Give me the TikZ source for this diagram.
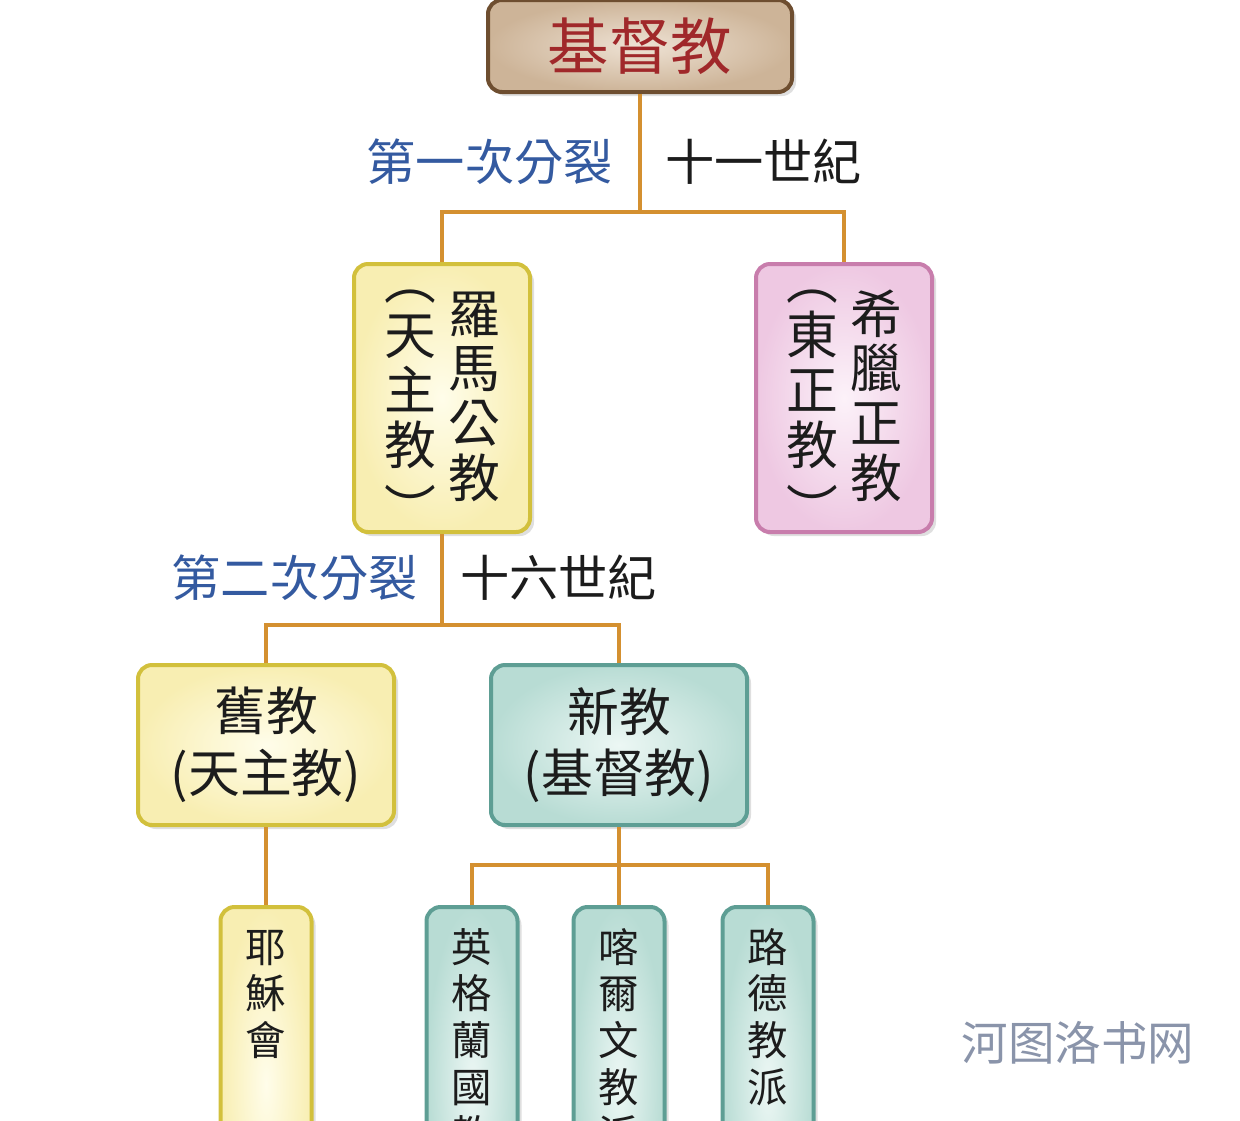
\documentclass[tikz,border=0pt]{standalone}
\usepackage{fontspec}
\setmainfont{Noto Sans CJK TC}
\newfontfamily\markfont{Noto Sans CJK SC}
\usetikzlibrary{positioning, shadows}
\definecolor{linebrown}{RGB}{212,144,48}
\definecolor{topred}{RGB}{160,40,42}
\definecolor{topedge}{RGB}{110,78,48}
\definecolor{topfill}{RGB}{238,226,212}
\definecolor{topouter}{RGB}{205,180,152}
\definecolor{splitblue}{RGB}{52,90,160}
\definecolor{inkdark}{RGB}{28,28,28}
\definecolor{yeledge}{RGB}{210,192,60}
\definecolor{yelfill}{RGB}{255,253,234}
\definecolor{yelouter}{RGB}{248,238,178}
\definecolor{pinkedge}{RGB}{200,125,172}
\definecolor{pinkfill}{RGB}{252,242,249}
\definecolor{pinkouter}{RGB}{238,200,226}
\definecolor{tealedge}{RGB}{94,158,148}
\definecolor{tealfill}{RGB}{236,247,244}
\definecolor{tealouter}{RGB}{184,220,212}
\definecolor{markgray}{RGB}{138,148,170}
\newlength{\pu}
\setlength{\pu}{0.02cm}
% one character per line, lines kept exactly one baselineskip apart
\newcommand{\vtext}[1]{\parbox[t]{1em}{\centering\lineskiplimit=-100pt #1}}
\newcommand{\vopen}{\raisebox{0.65em}{︵}}
\newcommand{\vclose}{\raisebox{-0.45em}{︶}}
\tikzset{
  box/.style={rectangle, rounded corners=14\pu, line width=4\pu,
    align=center, inner sep=0pt, text=inkdark,
    drop shadow={shadow xshift=4\pu, shadow yshift=-4\pu, opacity=0.25}},
  topbox/.style={box, draw=topedge, inner color=topfill, outer color=topouter,
    text=topred, minimum width=304\pu, minimum height=92\pu,
    font=\fontsize{35}{40}\selectfont},
  yelbox/.style={box, draw=yeledge, inner color=yelfill, outer color=yelouter},
  pinkbox/.style={box, draw=pinkedge, inner color=pinkfill, outer color=pinkouter},
  tealbox/.style={box, draw=tealedge, inner color=tealfill, outer color=tealouter},
  tallbox/.style={minimum width=176\pu, minimum height=268\pu, anchor=north,
    text height=69\pu, text depth=199\pu,
    font=\fontsize{29.5}{31.2}\selectfont},
  widebox/.style={minimum width=256\pu, minimum height=160\pu,
    font=\fontsize{29.5}{35}\selectfont},
  stickbox/.style={minimum width=91\pu, anchor=north, text height=55\pu,
    text depth=300\pu, font=\fontsize{23}{26.7}\selectfont},
  conn/.style={draw=linebrown, line width=4\pu},
  splitlabel/.style={inner sep=0pt, text=splitblue, font=\fontsize{28}{32}\selectfont},
  agelabel/.style={inner sep=0pt, text=inkdark, font=\fontsize{28}{32}\selectfont}
}
\begin{document}
\begin{tikzpicture}[x=0.02cm, y=-0.02cm]
  \useasboundingbox (0,0) rectangle (1240,1120);
  \clip (0,0) rectangle (1240,1120);

  % Top: the whole church
  \node[topbox] (jidu) at (640,46) {基督教};

  % First split, eleventh century
  \coordinate (s1) at (640,212);
  \coordinate (m1) at (640,162);
  \node[splitlabel, left=0.54cm of m1] (split1) {第一次分裂};
  \node[agelabel, right=0.5cm of m1] (age1) {十一世紀};

  \node[yelbox, tallbox] (roma) at (442,262)
    {\vtext{\vopen\\[-19pt]天\\主\\教\\[-8pt]\vclose}\hspace{7pt}\vtext{羅\\馬\\公\\教}};
  \node[pinkbox, tallbox] (xila) at (844,262)
    {\vtext{\vopen\\[-19pt]東\\正\\教\\[-8pt]\vclose}\hspace{7pt}\vtext{希\\臘\\正\\教}};

  \draw[conn] (jidu.south) -- (s1);
  \draw[conn] (roma.north) |- (s1) -| (xila.north);

  % Second split, sixteenth century
  \coordinate (s2) at (442,625);
  \coordinate (m2) at (442,578);
  \node[splitlabel, left=0.48cm of m2] (split2) {第二次分裂};
  \node[agelabel, right=0.36cm of m2] (age2) {十六世紀};

  \node[yelbox, widebox] (jiu) at (266,745) {舊教\\(天主教)};
  \node[tealbox, widebox] (xin) at (619,745) {新教\\(基督教)};

  \draw[conn] (roma.south) -- (s2);
  \draw[conn] (jiu.north) |- (s2) -| (xin.north);

  % Orders and churches below
  \node[yelbox, stickbox] (yesu) at (266,905) {\vtext{耶\\穌\\會}};
  \node[tealbox, stickbox] (ying) at (472,905) {\vtext{英\\格\\蘭\\國\\教}};
  \node[tealbox, stickbox] (kaer) at (619,905) {\vtext{喀\\爾\\文\\教\\派}};
  \node[tealbox, stickbox] (lu) at (768,905) {\vtext{路\\德\\教\\派}};

  \coordinate (s3) at (619,865);
  \draw[conn] (jiu.south) -- (yesu.north);
  \draw[conn] (xin.south) -- (kaer.north);
  \draw[conn] (ying.north) |- (s3) -| (lu.north);

  % Watermark
  \node[text=markgray, font=\markfont\fontsize{26.5}{30}\selectfont] (mark) at (1078,1043) {河图洛书网};
\end{tikzpicture}
\end{document}
